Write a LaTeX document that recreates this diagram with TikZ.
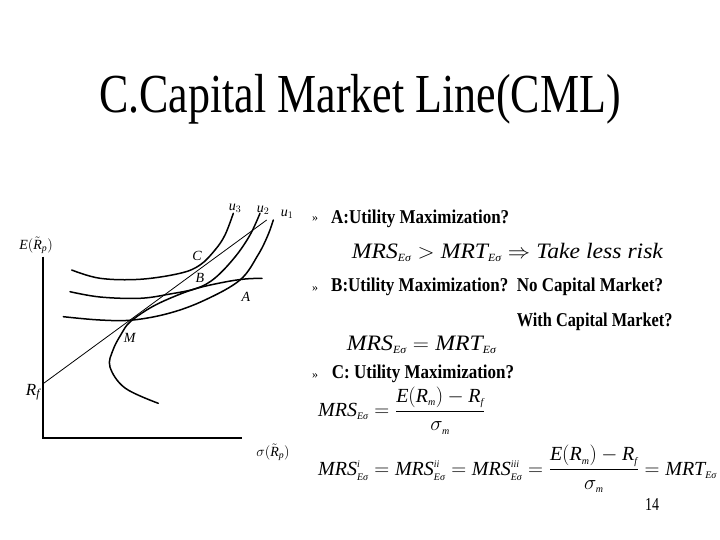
\documentclass[tikz,border=0pt]{standalone}
\usepackage{amsmath}
\usepackage{fontspec}
\setmainfont{LiberationSerif}[Extension=.ttf, UprightFont=*-Regular, BoldFont=*-Bold, ItalicFont=*-Italic, BoldItalicFont=*-BoldItalic]
\newcommand\ssub[1]{_{\scriptscriptstyle\textit{#1}}}
\newcommand\ssup[1]{^{\scriptscriptstyle\textit{#1}}}
\newcommand\ti[1]{\textit{#1}}
\begin{document}
\begin{tikzpicture}[x=1pt,y=-1pt,
  curve/.style={line width=1.5pt, line cap=round},
  axis/.style={line width=1.8pt},
  hand/.style={font=\fontsize{14}{14}\selectfont, inner sep=0pt},
  body/.style={anchor=base west, inner sep=0pt, font=\fontsize{17}{17}\selectfont\bfseries},
  bul/.style={anchor=base west, inner sep=0pt, font=\fontsize{12}{12}\selectfont},
  eqn/.style={anchor=base west, inner sep=0pt}]
\useasboundingbox (0,0) rectangle (720,540);
\fill[white] (0,0) rectangle (720,540);
% title
\node[anchor=base, inner sep=0pt, font=\fontsize{44}{44}\selectfont] (title) at (360,113) {\scalebox{1}[1.25]{C.Capital Market Line(CML)}};
% axes
\coordinate (ytop) at (42.7,256.7);
\coordinate (O) at (42.7,438);
\coordinate (xend) at (241.7,438);
\draw[axis] (ytop) -- (O) -- (xend);
\coordinate (Rf) at (42.7,384);
\coordinate (cmlend) at (266.7,220);
\draw[line width=0.8pt] (Rf) -- (cmlend);
% frontier
\draw[curve] plot[smooth, tension=0.6] coordinates {(158.3,403.3) (125,388) (110,367) (113,350) (121.7,333.3) (130,322) (150,308) (173,297) (197,288.3) (225,282) (245,279) (262,278.3)};
% u3
\draw[curve] plot[smooth, tension=0.6] coordinates {(71.7,270) (100,278.3) (140,279.3) (180,273.3) (200,265) (215,250) (225,235) (233.3,213.3)};
% u2
\draw[curve] plot[smooth, tension=0.6] coordinates {(70,291.7) (100,297) (140,298.3) (170,294) (196.7,288.3) (215,278) (235,257) (250,235) (260,213.3)};
% u1
\draw[curve] plot[smooth, tension=0.6] coordinates {(63.3,316.7) (100,320) (133,320) (170,313) (205,300) (240,280) (258,255) (268,235) (273.3,220)};
% graph labels
\node[hand] (lE) at (36,245) {$\ti{E}(\tilde{\ti{R}}_{\ti{p}})$};
\node[hand, font=\fontsize{17}{17}\selectfont] (lRf) at (33,392) {$\ti{R}_{\ti{f}}$};
\node[hand] (lsig) at (273,452) {$\sigma(\tilde{\ti{R}}_{\ti{p}})$};
\node[hand] (lC) at (197,256) {\ti{C}};
\node[hand] (lB) at (200,278) {\ti{B}};
\node[hand] (lA) at (246,297) {\ti{A}};
\node[hand] (lM) at (130,338) {\ti{M}};
\node[hand] (lu3) at (235,208) {$\ti{u}_3$};
\node[hand] (lu2) at (263,210) {$\ti{u}_2$};
\node[hand] (lu1) at (287,214) {$\ti{u}_1$};
% right text
\node[bul] (b1) at (312,222) {»};
\node[body] (tA) at (331,223) {\scalebox{1}[1.15]{A:Utility Maximization?}};
\node[eqn, font=\fontsize{22}{22}\selectfont] (eq1) at (351.7,258.3) {\scalebox{1.075}[1]{$\ti{MRS}\ssub{Eσ} > \ti{MRT}\ssub{Eσ} \Rightarrow \ti{Take less risk}$}};
\node[bul] (b2) at (312,291) {»};
\node[body] (tB) at (331,291.7) {\scalebox{1}[1.15]{B:Utility Maximization?\ \ No Capital Market?}};
\node[body] (tW) at (516.7,326.7) {\scalebox{0.96}[1.15]{With Capital Market?}};
\node[eqn, font=\fontsize{22}{22}\selectfont] (eq2) at (346.7,350) {\scalebox{1.08}[1]{$\ti{MRS}\ssub{Eσ} = \ti{MRT}\ssub{Eσ}$}};
\node[bul] (b3) at (312,378) {»};
\node[body] (tC) at (331.7,378.3) {\scalebox{1}[1.15]{C: Utility Maximization?}};
\node[eqn, font=\fontsize{20}{20}\selectfont] (eq3) at (318,416.7) {$\ti{MRS}\ssub{Eσ} = \dfrac{\ti{E}(\ti{R}\ssub{m}) - \ti{R}\ssub{f}}{\sigma\ssub{m}}$};
\node[eqn, font=\fontsize{20}{20}\selectfont] (eq4) at (318,475) {$\ti{MRS}\ssup{i}\ssub{Eσ} = \ti{MRS}\ssup{ii}\ssub{Eσ} = \ti{MRS}\ssup{iii}\ssub{Eσ} = \dfrac{\ti{E}(\ti{R}\ssub{m}) - \ti{R}\ssub{f}}{\sigma\ssub{m}} = \ti{MRT}\ssub{Eσ}$};
\node[anchor=base west, inner sep=0pt, font=\fontsize{14}{14}\selectfont] (pg) at (645,510) {\scalebox{1}[1.3]{14}};
\end{tikzpicture}
\end{document}
